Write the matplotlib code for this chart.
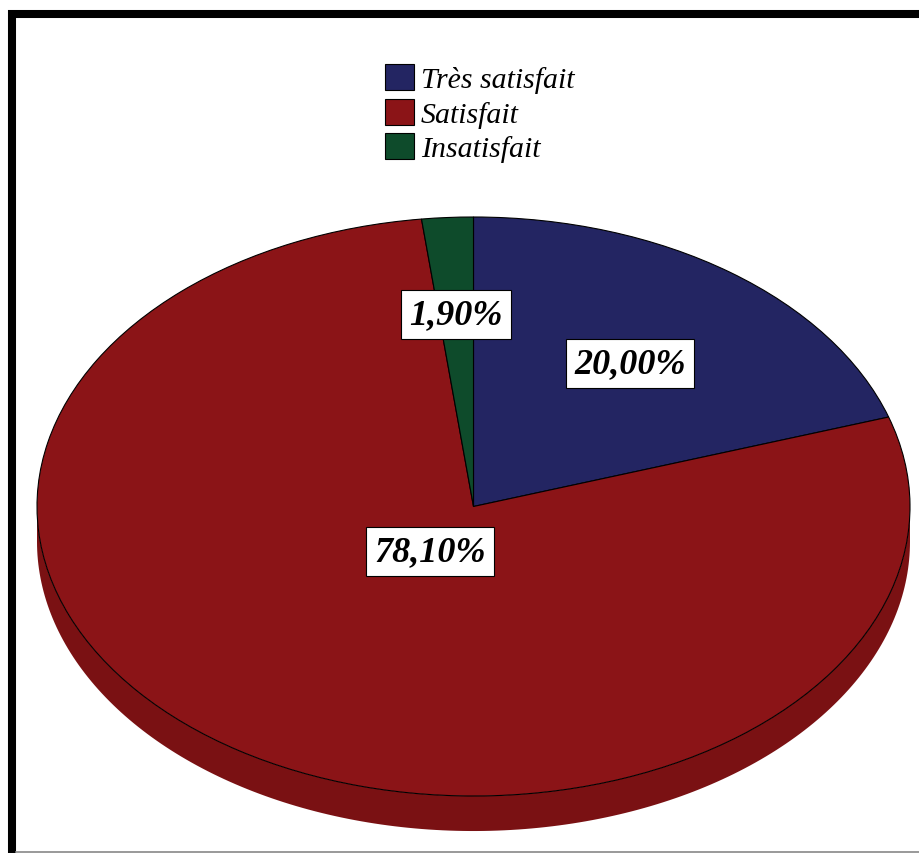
import numpy as np
import matplotlib
matplotlib.use("Agg")
import matplotlib.pyplot as plt
from matplotlib.patches import Polygon, Rectangle
from matplotlib.lines import Line2D
from matplotlib.font_manager import FontProperties

# Satisfaction survey shares (percent)
categories = ["Très satisfait", "Satisfait", "Insatisfait"]
values = [20.0, 78.1, 1.9]
colors = ["#232562", "#8b1417", "#0e4b2b"]
side_colors = ["#1a1c4a", "#7a1113", "#0a3a20"]
label_radius = [0.61, 0.185, 0.665]

W, H = 920, 854
fig = plt.figure(figsize=(W / 100, H / 100), dpi=100)
fig.patch.set_facecolor("white")

# Pie area: ellipse spanning the top face
ax = fig.add_axes([37 / W, 57 / H, 873 / W, 579 / H])
wedges, _ = ax.pie(values, colors=colors, startangle=90, counterclock=False,
                   radius=1.0, center=(0, 0),
                   wedgeprops=dict(edgecolor="black", linewidth=0.8))
for w in wedges:
    w.set_zorder(3)
ax.set_aspect("auto")
ax.set_xlim(-1, 1)
ax.set_ylim(-1, 1)
ax.axis("off")

# Extruded rim below the top face (3D look)
depth = 0.121
for w, sc in zip(wedges, side_colors):
    t1, t2 = w.theta1, w.theta2
    for k in (-1, 0, 1):
        lo = max(t1, -180 + 360 * k)
        hi = min(t2, 0 + 360 * k)
        if hi <= lo:
            continue
        t = np.radians(np.linspace(lo, hi, 200))
        top = np.column_stack([np.cos(t), np.sin(t)])
        bot = np.column_stack([np.cos(t[::-1]), np.sin(t[::-1]) - depth])
        ax.add_patch(Polygon(np.vstack([top, bot]), closed=True, facecolor=sc,
                             edgecolor="none", zorder=2, clip_on=False))

# Percentage labels in white boxes
for w, v, r in zip(wedges, values, label_radius):
    mid = np.radians((w.theta1 + w.theta2) / 2)
    txt = f"{v:.2f}".replace(".", ",") + "%"
    ax.text(r * np.cos(mid), r * np.sin(mid), txt, ha="center", va="center",
            fontsize=26, fontweight="bold", fontstyle="italic",
            family="Liberation Serif", zorder=5,
            bbox=dict(boxstyle="square,pad=0.22", facecolor="white",
                      edgecolor="black", linewidth=0.8))

# Legend
leg = fig.legend(handles=wedges, labels=categories, loc="upper left",
                 bbox_to_anchor=(385 / W, 1 - 65 / H), frameon=False,
                 prop=FontProperties(family="Liberation Serif", style="italic",
                                     size=21.5),
                 handlelength=0.96, handleheight=0.96, handletextpad=0.24,
                 labelspacing=0.18, borderpad=0, borderaxespad=0)

# Outer frame
fig.patches.append(Rectangle((12 / W, -0.1), 1.2, 1 - 15 / H + 0.1,
                             transform=fig.transFigure, fill=False,
                             edgecolor="black", linewidth=5.8))
fig.lines.append(Line2D([16 / W, 1], [1.5 / H, 1.5 / H], transform=fig.transFigure,
                        color="#888888", linewidth=1.2))

fig.savefig("out.png", dpi=100, facecolor="white")
